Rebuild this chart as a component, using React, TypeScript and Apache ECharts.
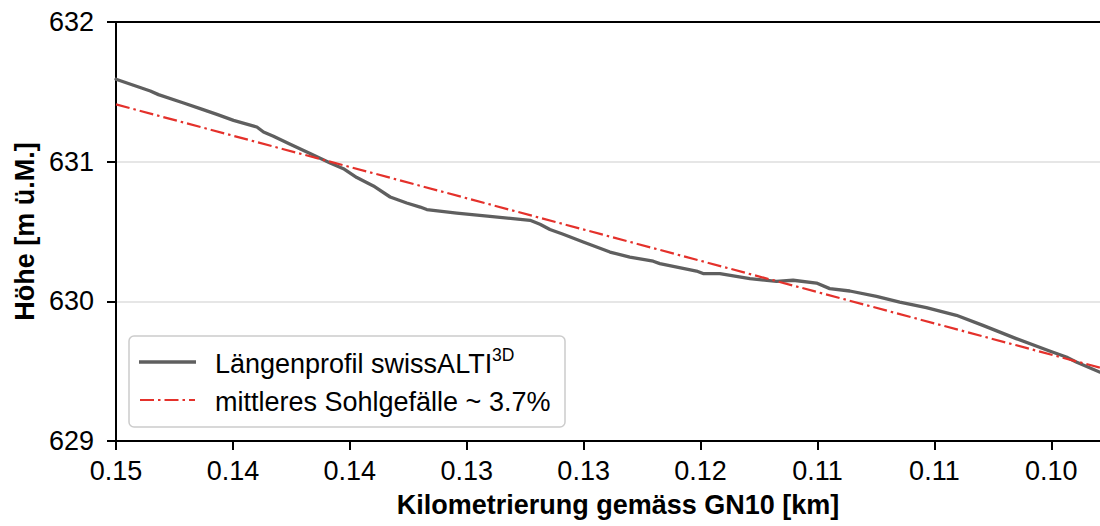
import React, { useEffect, useRef } from 'react';
import * as echarts from 'echarts';

// Längenprofil swissALTI3D: Kilometrierung [km] and Höhe [m ü.M.]
const profileKm = [
  0.15, 0.1491, 0.14824, 0.14782, 0.14653, 0.14568, 0.14482, 0.14397, 0.14277, 0.14243,
  0.14192, 0.14106, 0.14004, 0.13901, 0.13833, 0.13764, 0.13679, 0.13593, 0.13508, 0.13439,
  0.13405, 0.13251, 0.13081, 0.12875, 0.12824, 0.12773, 0.12705, 0.12602, 0.12465, 0.12363,
  0.12243, 0.12209, 0.12021, 0.11987, 0.11901, 0.11747, 0.1161, 0.11525, 0.11405, 0.11337,
  0.11234, 0.11097, 0.10978, 0.10841, 0.10722, 0.10687, 0.10551, 0.1038, 0.10209, 0.10123,
  0.10072, 0.09952,
];
const profileHeight = [
  631.59, 631.547, 631.506, 631.48, 631.42, 631.38, 631.339, 631.296, 631.248, 631.212,
  631.182, 631.124, 631.058, 630.99, 630.95, 630.886, 630.826, 630.747, 630.704, 630.675,
  630.657, 630.632, 630.609, 630.58, 630.552, 630.514, 630.48, 630.425, 630.353, 630.317,
  630.287, 630.27, 630.217, 630.199, 630.199, 630.163, 630.143, 630.151, 630.131, 630.091,
  630.074, 630.036, 629.995, 629.955, 629.912, 629.9, 629.828, 629.733, 629.644, 629.601,
  629.566, 629.494,
];

// mittleres Sohlgefälle (straight line, endpoints)
const slopeKm = [0.15, 0.0995];
const slopeHeight = [631.41, 629.525];

const xTickValues = [0.15, 0.144, 0.138, 0.132, 0.126, 0.12, 0.114, 0.108, 0.102];
const xMin = 0.0995;
const xMax = 0.15;
const yMin = 629;
const yMax = 632;
const yStep = 1;

const seriesNames = ['Längenprofil swissALTI', 'mittleres Sohlgefälle ~ 3.7%'];
const superscript = '3D';
const xTitle = 'Kilometrierung gemäss GN10 [km]';
const yTitle = 'Höhe [m ü.M.]';

const FONT = "'Liberation Sans', Arial, Helvetica, sans-serif";
const GRAY = '#5f5f5f';
const RED = '#e4312b';
const FS = 27;

export default function App() {
  const ref = useRef<HTMLDivElement>(null);

  useEffect(() => {
    if (!ref.current) return;
    const chart = echarts.init(ref.current, null, { renderer: 'svg' });
    const axisLineStyle = { color: '#000', width: 2 };
    chart.setOption({
      animation: false,
      backgroundColor: '#ffffff',
      grid: { left: 116, right: 0, top: 22, bottom: 85, containLabel: false },
      xAxis: [
        {
          type: 'value',
          inverse: true,
          min: xMin,
          max: xMax,
          position: 'bottom',
          axisLine: { show: true, onZero: false, lineStyle: axisLineStyle },
          axisTick: { show: true, length: 9, lineStyle: axisLineStyle, customValues: xTickValues },
          axisLabel: {
            customValues: xTickValues,
            formatter: (v: number) => v.toFixed(2),
            margin: 16,
            fontSize: FS,
            color: '#000',
            fontFamily: FONT,
          },
          splitLine: { show: false },
          name: xTitle,
          nameLocation: 'middle',
          nameGap: 50,
          nameTextStyle: {
            fontSize: FS,
            fontWeight: 'bold',
            color: '#000',
            fontFamily: FONT,
            padding: [0, 0, 0, 20],
          },
        },
        {
          type: 'value',
          inverse: true,
          min: xMin,
          max: xMax,
          position: 'top',
          axisLine: { show: true, onZero: false, lineStyle: axisLineStyle },
          axisTick: { show: false },
          axisLabel: { show: false },
          splitLine: { show: false },
        },
      ],
      yAxis: {
        type: 'value',
        min: yMin,
        max: yMax,
        interval: yStep,
        axisLine: { show: true, onZero: false, lineStyle: axisLineStyle },
        axisTick: { show: true, length: 9, lineStyle: axisLineStyle },
        axisLabel: { margin: 22, fontSize: FS, color: '#000', fontFamily: FONT },
        splitLine: { show: true, lineStyle: { color: '#e6e6e6', width: 2 } },
        name: yTitle,
        nameLocation: 'middle',
        nameGap: 77,
        nameRotate: 90,
        nameTextStyle: { fontSize: FS, fontWeight: 'bold', color: '#000', fontFamily: FONT },
      },
      series: [
        {
          name: seriesNames[0],
          type: 'line',
          xAxisIndex: 0,
          data: profileKm.map((k, i) => [k, profileHeight[i]]),
          symbol: 'none',
          showSymbol: false,
          lineStyle: { color: GRAY, width: 3.3, cap: 'round', join: 'round' },
          z: 3,
        },
        {
          name: seriesNames[1],
          type: 'line',
          xAxisIndex: 0,
          data: slopeKm.map((k, i) => [k, slopeHeight[i]]),
          symbol: 'none',
          showSymbol: false,
          lineStyle: { color: RED, width: 2.2, type: [14, 4, 2.5, 4] },
          z: 4,
        },
      ],
      graphic: [
        {
          type: 'rect',
          z: 100,
          shape: { x: 129, y: 336, width: 436, height: 91, r: 5 },
          style: { fill: 'rgba(255,255,255,0.8)', stroke: '#cccccc', lineWidth: 1.5 },
        },
        {
          type: 'line',
          z: 101,
          shape: { x1: 139, y1: 362, x2: 196, y2: 362 },
          style: { stroke: GRAY, lineWidth: 3.3 },
        },
        {
          type: 'line',
          z: 101,
          shape: { x1: 140, y1: 400, x2: 195, y2: 400 },
          style: { stroke: RED, lineWidth: 2.2, lineDash: [14, 4, 2.5, 4] },
        },
        {
          type: 'text',
          z: 101,
          x: 215,
          y: 363.5,
          style: {
            text: seriesNames[0],
            fontSize: FS,
            fontFamily: FONT,
            fill: '#000',
            verticalAlign: 'middle',
          },
        },
        {
          type: 'text',
          z: 101,
          x: 492,
          y: 355,
          style: {
            text: superscript,
            fontSize: 17.5,
            fontFamily: FONT,
            fill: '#000',
            verticalAlign: 'middle',
          },
        },
        {
          type: 'text',
          z: 101,
          x: 215,
          y: 401.5,
          style: {
            text: seriesNames[1],
            fontSize: FS,
            fontFamily: FONT,
            fill: '#000',
            verticalAlign: 'middle',
          },
        },
      ],
    });
    return () => chart.dispose();
  }, []);

  return (
    <div
      ref={ref}
      style={{ position: 'absolute', left: 0, top: 0, width: 1100, height: 526, background: '#fff' }}
    />
  );
}
